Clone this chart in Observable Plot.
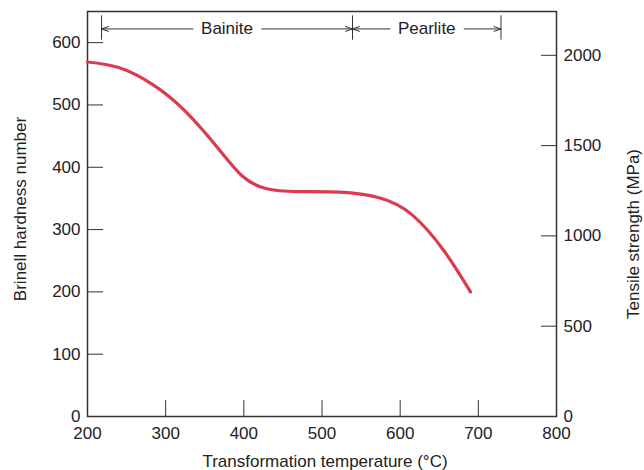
<!DOCTYPE html>
<html><head><meta charset="utf-8">
<script src="https://cdn.jsdelivr.net/npm/d3@7"></script>
<script src="https://cdn.jsdelivr.net/npm/@observablehq/plot@0.6"></script>
<style>html,body{margin:0;padding:0;background:#fff}</style>
</head><body><div id="chart"></div>
<script>
// Data
const temps = [200, 240, 283, 325, 368, 398, 428, 470, 523, 573, 615, 656, 690];
const hardness = [569, 560, 533, 490, 429, 386, 366, 361, 360, 351, 324, 266, 200];
const xTicks = [200, 300, 400, 500, 600, 700, 800];
const hbTicks = [0, 100, 200, 300, 400, 500, 600];
const mpaTicks = [0, 500, 1000, 1500, 2000];
const mpaPerHB = 3.45;
const regionBounds = [218, 539, 729];
const regionLabels = ["Bainite", "Pearlite"];
const annotationLevel = 622;
const barLow = 604, barHigh = 643;

const points = temps.map((t, i) => ({t, hb: hardness[i]}));
const regions = regionLabels.map((name, i) => ({
  name, a: regionBounds[i], b: regionBounds[i + 1], mid: (regionBounds[i] + regionBounds[i + 1]) / 2
}));
const segments = regions.flatMap(r => [{x1: r.mid, x2: r.a}, {x1: r.mid, x2: r.b}]);

const ink = "#222";
const fs = 17;

const chart = Plot.plot({
  width: 644, height: 470,
  marginLeft: 87, marginRight: 88, marginTop: 11, marginBottom: 54,
  style: {fontFamily: "Liberation Sans, Arial, sans-serif", fontSize: fs + "px", color: ink, background: "#fff"},
  x: {domain: [200, 800]},
  y: {domain: [0, 650]},
  marks: [
    Plot.axisX(xTicks, {tickSize: -16, tickPadding: 26, label: null, fontSize: fs, stroke: "#333"}),
    Plot.axisY(hbTicks, {anchor: "left", tickSize: -16, tickPadding: 23, label: null, fontSize: fs, stroke: "#333"}),
    Plot.axisY(mpaTicks.map(m => m / mpaPerHB), {anchor: "right", tickSize: -16, tickPadding: 23, label: null, fontSize: fs, stroke: "#333", tickFormat: d => String(Math.round(d * mpaPerHB / 100) * 100)}),
    Plot.frame({stroke: "#333", strokeWidth: 1.5}),
    Plot.ruleX(regionBounds, {y1: barLow, y2: barHigh, stroke: "#333", strokeWidth: 1}),
    Plot.arrow(segments, {x1: "x1", x2: "x2", y1: annotationLevel, y2: annotationLevel, stroke: "#333", strokeWidth: 1, headLength: 11, headAngle: 38}),
    Plot.text(regions, {x: "mid", y: annotationLevel, text: "name", fill: ink, stroke: "white", strokeWidth: 18, fontSize: fs}),
    Plot.line(points, {x: "t", y: "hb", curve: "natural", stroke: "#d93b50", strokeWidth: 3.2}),
    Plot.text(["Transformation temperature (°C)"], {frameAnchor: "bottom", dx: 3, dy: 50, fill: ink, fontSize: fs}),
    Plot.text(["Brinell hardness number"], {frameAnchor: "left", textAnchor: "middle", rotate: -90, dx: -67, dy: -5, fill: ink, fontSize: fs}),
    Plot.text(["Tensile strength (MPa)"], {frameAnchor: "right", textAnchor: "middle", rotate: -90, dx: 77, dy: 20, fill: ink, fontSize: fs})
  ]
});
document.getElementById("chart").append(chart);
</script>
</body></html>
